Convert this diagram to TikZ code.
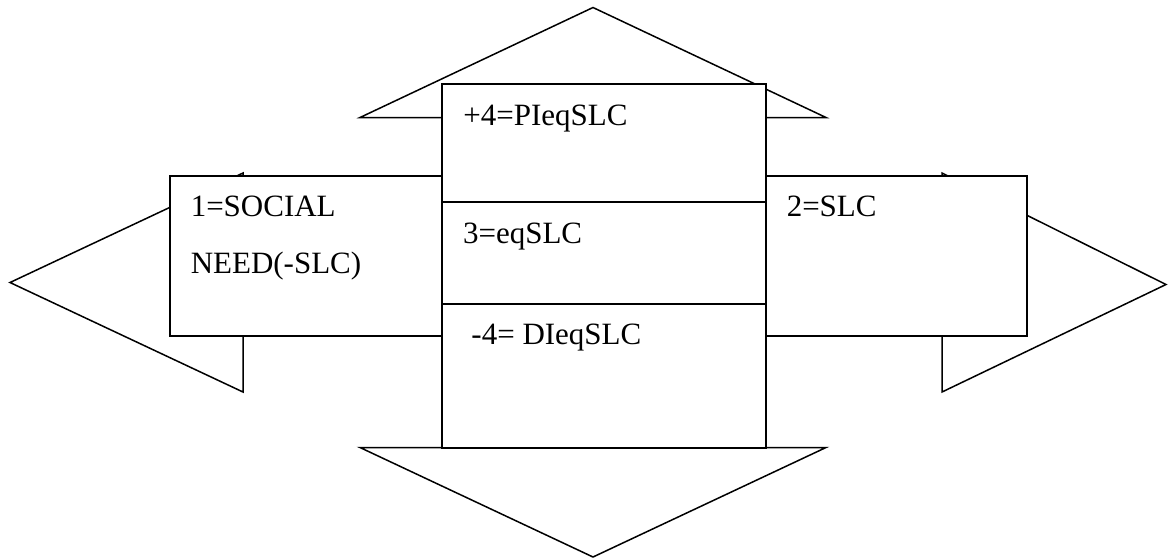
\documentclass[tikz,border=0pt]{standalone}
\usepackage{fontspec}
\setmainfont{Liberation Serif}
\begin{document}
\begin{tikzpicture}[x=0.5pt,y=-0.5pt,
  line width=0.75pt, line join=miter,
  arrowshape/.style={draw=black, fill=white},
  boxshape/.style={draw=black, fill=white, rectangle, inner sep=0pt, outer sep=0pt},
  lbl/.style={inner sep=0pt, anchor=base west, font=\fontsize{15.5}{18}\selectfont}]
\useasboundingbox (0,0) rectangle (1168,559);
% arrows
\draw[arrowshape] (593,7.5) -- (826,117.5) -- (766,117.5) -- (766,448) -- (442,448) -- (442,117.5) -- (360,117.5) -- cycle;
\draw[arrowshape] (593,557) -- (826,447.5) -- (766,447.5) -- (766,84) -- (442,84) -- (442,447.5) -- (360,447.5) -- cycle;
\draw[arrowshape] (10,282.5) -- (243,173) -- (243,229) -- (442,229) -- (442,336) -- (243,336) -- (243,392) -- cycle;
\draw[arrowshape] (1166,284.5) -- (942,173) -- (942,229) -- (766,229) -- (766,336) -- (942,336) -- (942,392) -- cycle;
% boxes
\node[boxshape, minimum width=136pt, minimum height=80pt] (leftbox) at (306,256) {};
\node[boxshape, minimum width=130.5pt, minimum height=80pt] (rightbox) at (896.5,256) {};
\node[boxshape, minimum width=162pt, minimum height=59pt] (topbox) at (604,143) {};
\node[boxshape, minimum width=162pt, minimum height=51pt] (midbox) at (604,253) {};
\node[boxshape, minimum width=162pt, minimum height=72pt] (botbox) at (604,376) {};
% labels
\node[lbl] (t1a) at (190,216.7) {1=SOCIAL};
\node[lbl] (t1b) at (190,273) {NEED(-SLC)};
\node[lbl] (t2) at (786,216.7) {2=SLC};
\node[lbl] (t4) at (462.7,125) {+4=PIeqSLC};
\node[lbl] (t3) at (462.3,243.3) {3=eqSLC};
\node[lbl] (tm4) at (470.7,344.3) {-4= DIeqSLC};
\end{tikzpicture}
\end{document}
